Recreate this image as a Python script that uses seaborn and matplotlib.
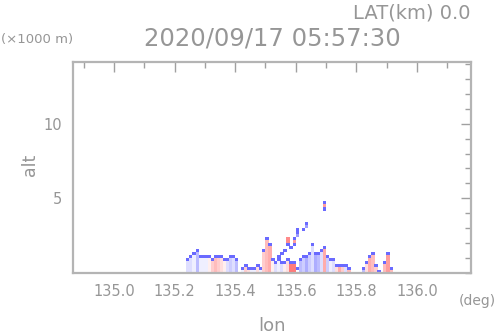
import numpy as np
import pandas as pd
import matplotlib
matplotlib.use("Agg")
import matplotlib.pyplot as plt
from matplotlib.colors import LinearSegmentedColormap
from matplotlib.ticker import MultipleLocator, FormatStrFormatter
import seaborn as sns

# echo columns: left edge of each 0.01 deg bin, echo top (km), interior value
col_lon = [135.24, 135.25, 135.26, 135.27, 135.28, 135.29, 135.30, 135.31, 135.32, 135.33,
           135.34, 135.35, 135.36, 135.37, 135.38, 135.39, 135.40, 135.42, 135.43, 135.44,
           135.45, 135.46, 135.47, 135.48, 135.49, 135.50, 135.51, 135.52, 135.53, 135.54,
           135.55, 135.56, 135.57, 135.58, 135.59, 135.60, 135.61, 135.62, 135.63, 135.64,
           135.65, 135.66, 135.67, 135.68, 135.69, 135.70, 135.71, 135.72, 135.73, 135.74,
           135.75, 135.76, 135.77, 135.82, 135.83, 135.84, 135.85, 135.86, 135.87, 135.89,
           135.90, 135.91]
col_top = [1.0, 1.2, 1.4, 1.6, 1.2, 1.2, 1.2, 1.2, 1.0, 1.2,
           1.2, 1.2, 1.0, 1.0, 1.2, 1.2, 1.0, 0.4, 0.6, 0.4,
           0.4, 0.4, 0.6, 0.4, 1.6, 2.4, 2.0, 1.0, 0.8, 1.0,
           0.8, 0.8, 1.0, 0.8, 0.8, 0.4, 1.0, 1.2, 1.2, 1.4,
           2.0, 1.4, 1.4, 1.6, 1.8, 1.2, 1.0, 1.0, 0.6, 0.6,
           0.6, 0.6, 0.4, 0.4, 0.8, 1.2, 1.4, 0.6, 0.2, 0.8,
           1.4, 0.4]
col_val = [-0.2, -0.2, -0.1, -0.4, -0.1, -0.1, -0.1, 0.1, 0.3, 0.4,
           0.3, 0.2, 0.1, -0.2, -0.3, -0.2, -0.4, -0.1, 0.3, 0.2,
           -0.1, -0.1, 0.2, -0.1, 0.3, 0.4, 0.5, 0.1, -0.2, -0.1,
           -0.2, 0.1, 0.2, 0.8, 0.8, 0.0, -0.4, -0.3, -0.5, -0.3,
           -0.2, -0.5, -0.4, -0.2, 0.5, -0.3, -0.1, -0.2, 0.2, 0.5,
           0.3, -0.2, 0.4, -0.4, 0.2, 0.5, 0.4, 0.3, -0.5, 0.4,
           0.6, 0.4]

# isolated echo cells aloft
float_lon = [135.69, 135.69, 135.69, 135.63, 135.63, 135.62, 135.60, 135.60, 135.60, 135.59,
             135.59, 135.59, 135.58, 135.57, 135.57, 135.57, 135.56, 135.55, 135.54]
float_alt = [4.7, 4.5, 4.3, 3.3, 3.1, 2.9, 2.9, 2.7, 2.5, 2.3,
             2.1, 1.9, 1.7, 2.3, 2.1, 1.9, 1.5, 1.3, 1.1]
float_val = [-0.9, 0.6, -0.9, -0.9, -0.6, -0.9, -0.9, -0.9, -0.6, -0.9,
             0.6, -0.9, -0.9, 0.7, 0.7, -0.9, -0.9, -0.9, -0.9]

EDGE = -0.9
DZ = 0.2
rows = []
for lon, top, val in zip(col_lon, col_top, col_val):
    n = int(round(top / DZ))
    for k in range(n):
        rows.append((lon + 0.005, DZ * k + DZ / 2, EDGE if k == n - 1 else val))
for lon, alt, val in zip(float_lon, float_alt, float_val):
    rows.append((lon + 0.005, alt, val))
df = pd.DataFrame(rows, columns=["lon", "alt", "val"])

sns.set_theme(style="white")
plt.rcParams["font.family"] = ["DejaVu Sans"]
grey = "#969696"

cmap = LinearSegmentedColormap.from_list("rw", ["#5a5aff", "#ffffff", "#ff5a5a"])

fig = plt.figure(figsize=(4.98, 3.36), dpi=100)
ax = fig.add_axes([73 / 498, 63 / 336, 398 / 498, 211 / 336])
sns.scatterplot(data=df, x="lon", y="alt", hue="val", palette=cmap, hue_norm=(-1, 1),
                marker="s", s=6.5, linewidth=0, legend=False, ax=ax)

ax.set_xlim(134.865, 136.178)
ax.set_ylim(0, 14.13)
ax.xaxis.set_major_locator(MultipleLocator(0.2))
ax.xaxis.set_minor_locator(MultipleLocator(0.1))
ax.xaxis.set_major_formatter(FormatStrFormatter("%.1f"))
ax.yaxis.set_major_locator(MultipleLocator(5))
ax.yaxis.set_minor_locator(MultipleLocator(1))
ax.set_yticks([5, 10])
ax.tick_params(which="both", direction="in", top=True, right=True, color="#a0a0a0",
               labelcolor=grey, labelsize=10.5, width=1)
ax.tick_params(which="major", length=7, pad=8)
ax.tick_params(which="minor", length=4)
ax.set_xlabel("")
ax.set_ylabel("")
for sp in ax.spines.values():
    sp.set_color("#b4b4b4")
    sp.set_linewidth(1.6)

fig.text(470 / 498, 1 - 13 / 336, "LAT(km) 0.0", ha="right", va="center", color=grey, fontsize=14)
fig.text(272 / 498, 1 - 39 / 336, "2020/09/17 05:57:30", ha="center", va="center", color=grey, fontsize=17.5)
fig.text(1 / 498, 1 - 39 / 336, "(\u00d71000 m)", ha="left", va="center", color=grey, fontsize=9.5)
fig.text(30 / 498, 1 - 165 / 336, "alt", ha="center", va="center", color=grey, fontsize=12.5, rotation=90)
fig.text(496 / 498, 1 - 301 / 336, "(deg)", ha="right", va="center", color=grey, fontsize=10)
fig.text(272 / 498, 1 - 326 / 336, "lon", ha="center", va="center", color=grey, fontsize=13)

fig.savefig("out.png", dpi=100)
